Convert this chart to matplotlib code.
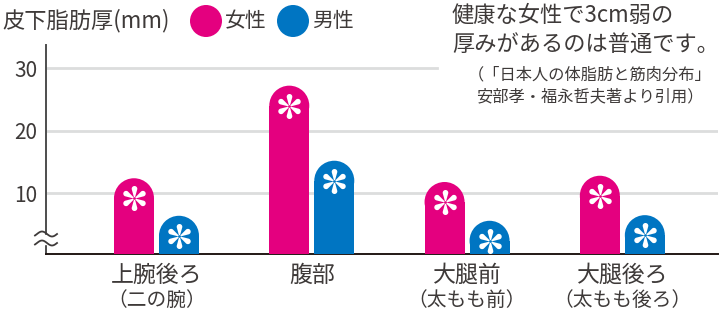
import matplotlib
matplotlib.use('Agg')
import matplotlib.pyplot as plt
import numpy as np
from matplotlib.patches import Ellipse, Circle, Rectangle
from matplotlib.path import Path

plt.rcParams['font.family'] = ['Noto Sans CJK JP', 'DejaVu Sans']

# data (subcutaneous fat thickness, mm)
parts = ['上腕後ろ', '腹部', '大腿前', '大腿後ろ']
subparts = ['（二の腕）', '', '（太もも前）', '（太もも後ろ）']
female = [12.4, 27.2, 11.8, 12.8]
male = [6.4, 15.2, 5.6, 6.5]
yticks = [10, 20, 30]
ytop, ybottom = 33.7, 0.29

pink = '#e4007f'
blue = '#0075c2'
grid = '#dcdddd'
ink = '#3e3a39'


def flower(n=6, c=0.38, a=0.11, b=0.05, h=0.022):
    """six teardrop petals as one marker path (petals do not overlap)"""
    verts, codes = [], []
    for k in range(n):
        ang = np.pi/2 + 2*np.pi*k/n
        u = np.array([np.cos(ang), np.sin(ang)])
        v = np.array([-u[1], u[0]])
        pts = [b*u - h*v]
        for th in np.linspace(-1.75, 1.75, 24):
            pts.append((c*u) + a*(np.cos(th)*u + np.sin(th)*v))
        pts.append(b*u + h*v)
        verts += pts + [pts[0]]
        codes += [Path.MOVETO] + [Path.LINETO]*(len(pts)-1) + [Path.CLOSEPOLY]
    return Path(verts, codes)


W, H = 722, 313
fig = plt.figure(figsize=(W/100, H/100), dpi=100)
ax = fig.add_axes([46/W, (H-254)/H, (718-46)/W, (254-45)/H])
ax.set_xlim(-0.7115, 3.616)
ax.set_ylim(ybottom, ytop)

# pixels per data unit, so the rounded caps come out as true circles
pos = ax.get_position()
pxx = W*pos.width/np.diff(ax.get_xlim())[0]
pxy = H*pos.height/np.diff(ax.get_ylim())[0]
w = 40/pxx
off = 22.5/pxx
r = 20/pxy

x = np.arange(len(parts))
star = flower()
for xs, vals, col in [(x-off, female, pink), (x+off, male, blue)]:
    for xi, v in zip(xs, vals):
        ax.bar(xi, v-r-ybottom, width=w, bottom=ybottom, color=col, lw=0, zorder=3)
        ax.add_patch(Ellipse((xi, v-r), w, 2*r, facecolor=col, lw=0, zorder=3))
        ax.plot(xi, v-r, marker=star, ms=18, mew=0, color='white', zorder=4)

# grid lines (top one only runs part way)
for t in yticks:
    ax.axhline(t, xmax=0.582 if t == 30 else 1, color=grid, lw=2, zorder=1)

for s in ['top', 'right']:
    ax.spines[s].set_visible(False)
ax.spines['left'].set_color('#4d4d4d')
ax.spines['left'].set_linewidth(1.4)
ax.spines['bottom'].set_color('#231815')
ax.spines['bottom'].set_linewidth(1.4)
ax.set_xticks([])
ax.set_yticks(yticks)
ax.set_yticklabels([str(t) for t in yticks], fontsize=15, color=ink)
ax.tick_params(axis='y', length=0, pad=6)

# axis break mark
ax.add_patch(Rectangle((-0.006, (254-244)/209), 0.012, 9/209, transform=ax.transAxes,
                       color='white', clip_on=False, zorder=5))
t = np.linspace(-0.1, 1.0, 40)
wx = -0.0164 + 0.0328*(t+0.1)/1.1
for yc in [254-234, 254-243]:
    ax.plot(wx, (yc + 2.5*np.sin(2*np.pi*t))/209, color='#3e3a39',
            lw=1.3, transform=ax.transAxes, clip_on=False, zorder=6)

# category labels
for xi, p, sp in zip(x, parts, subparts):
    ax.text(xi, (254-275)/209, p, transform=ax.get_xaxis_transform(),
            ha='center', va='center', fontsize=16.5, color=ink)
    if sp:
        ax.text(xi, (254-300)/209, sp, transform=ax.get_xaxis_transform(),
                ha='center', va='center', fontsize=14.2, color=ink)

# overlay in pixel coordinates for title, legend and notes
ov = fig.add_axes([0, 0, 1, 1], zorder=10)
ov.set_xlim(0, W)
ov.set_ylim(H, 0)
ov.axis('off')
ov.patch.set_alpha(0)
ov.text(2, 21, '皮下脂肪厚(mm)', fontsize=16, color=ink, ha='left', va='center')
ov.add_patch(Circle((206, 21), 16, facecolor=pink, lw=0))
ov.text(225, 21, '女性', fontsize=15, color=ink, ha='left', va='center')
ov.add_patch(Circle((293, 21), 16, facecolor=blue, lw=0))
ov.text(312, 21, '男性', fontsize=15, color=ink, ha='left', va='center')
ov.text(452, 15, '健康な女性で3cm弱の', fontsize=16, color=ink, ha='left', va='center')
ov.text(452, 45, '厚みがあるのは普通です。', fontsize=16, color=ink, ha='left', va='center')
ov.text(590, 75, '（「日本人の体脂肪と筋肉分布」', fontsize=11.7, color=ink, ha='center', va='center')
ov.text(590, 97, '安部孝・福永哲夫著より引用）', fontsize=11.7, color=ink, ha='center', va='center')

fig.savefig('out.png', dpi=100)
